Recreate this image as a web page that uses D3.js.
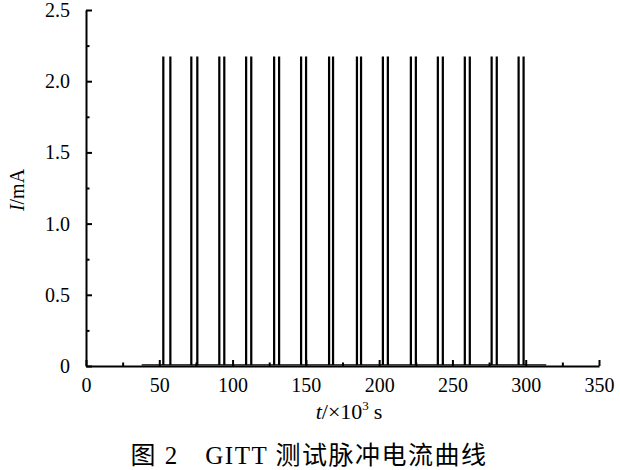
<!DOCTYPE html>
<html><head><meta charset="utf-8">
<script src="https://cdn.jsdelivr.net/npm/d3@7"></script>
<style>
body{margin:0;background:#fff;}
text{font-family:"Liberation Serif","Times New Roman","Noto Sans CJK SC",serif;fill:#000;}
</style></head>
<body><svg id="c" width="620" height="470"></svg>
<script>
// Data (t in 10^3 s, current in mA)
const pulseStarts = [52.4, 71.5, 90.6, 108.9, 128.0, 146.4, 165.5, 184.5, 202.2, 221.3, 239.7, 258.1, 276.4, 294.8];
const pulseEnds   = [57.2, 75.6, 94.0, 112.4, 131.4, 149.8, 168.2, 187.3, 205.6, 224.7, 243.1, 261.5, 279.9, 298.2];
const pulseCurrent = 2.17;
const spikeWidth = 0.7;
const restStart = 38, restEnd = 314, restCurrent = 0.008;
const xTicks = [0, 50, 100, 150, 200, 250, 300, 350];
const xMinor = [25, 75, 125, 175, 225, 275, 325];
const yTicks = [0, 0.5, 1.0, 1.5, 2.0, 2.5];
const yMinor = [0.25, 0.75, 1.25, 1.75, 2.25];

const svg = d3.select("#c");
const x = d3.scaleLinear().domain([0, 350]).range([86, 599]);
const y = d3.scaleLinear().domain([0, 2.5]).range([366, 10]);

// build the trace
const pts = [[restStart, restCurrent]];
pulseStarts.forEach((s, i) => {
  [s, pulseEnds[i]].forEach(t => {
    pts.push([t, restCurrent], [t, pulseCurrent], [t + spikeWidth, pulseCurrent], [t + spikeWidth, restCurrent]);
  });
});
pts.push([restEnd, restCurrent]);

svg.append("path").datum(pts)
  .attr("d", d3.line().x(d => x(d[0])).y(d => y(d[1])))
  .attr("fill", "none").attr("stroke", "#000").attr("stroke-width", 1.2);

// axes
svg.append("g").attr("transform", "translate(0,366)")
  .call(d3.axisBottom(x).tickValues(xTicks).tickSizeInner(-6).tickSizeOuter(0).tickPadding(12).tickFormat(d3.format("d")));
svg.append("g").attr("transform", "translate(0,366)")
  .call(d3.axisBottom(x).tickValues(xMinor).tickSizeInner(-3.5).tickSizeOuter(0).tickFormat(""))
  .select(".domain").remove();
svg.append("g").attr("transform", "translate(86,0)")
  .call(d3.axisLeft(y).tickValues(yTicks).tickSizeInner(-6).tickSizeOuter(0).tickPadding(16)
    .tickFormat(d => d === 0 ? "0" : d3.format(".1f")(d)));
svg.append("g").attr("transform", "translate(86,0)")
  .call(d3.axisLeft(y).tickValues(yMinor).tickSizeInner(-3.5).tickSizeOuter(0).tickFormat(""))
  .select(".domain").remove();

svg.selectAll(".domain").attr("stroke", "#000").attr("stroke-width", 2);
svg.selectAll(".tick line").attr("stroke", "#000").attr("stroke-width", 2);
svg.selectAll(".tick text").attr("font-size", 20)
  .attr("font-family", "'Liberation Serif','Times New Roman',serif");

// axis titles
const yl = svg.append("text").attr("transform", "translate(24,190) rotate(-90)")
  .attr("text-anchor", "middle").attr("font-size", 20);
yl.append("tspan").attr("font-style", "italic").text("I");
yl.append("tspan").text("/mA");

const xl = svg.append("text").attr("x", 349).attr("y", 419)
  .attr("text-anchor", "middle").attr("font-size", 22);
xl.append("tspan").attr("font-style", "italic").text("t");
xl.append("tspan").text("/×10");
xl.append("tspan").attr("font-size", 13).attr("dy", -9).text("3");
xl.append("tspan").attr("dy", 9).attr("dx", 5).text("s");

svg.append("text").attr("x", 309).attr("y", 464).attr("text-anchor", "middle")
  .attr("font-size", 25).attr("letter-spacing", 1.5).attr("xml:space", "preserve")
  .text("图 2　GITT 测试脉冲电流曲线");
</script></body></html>
